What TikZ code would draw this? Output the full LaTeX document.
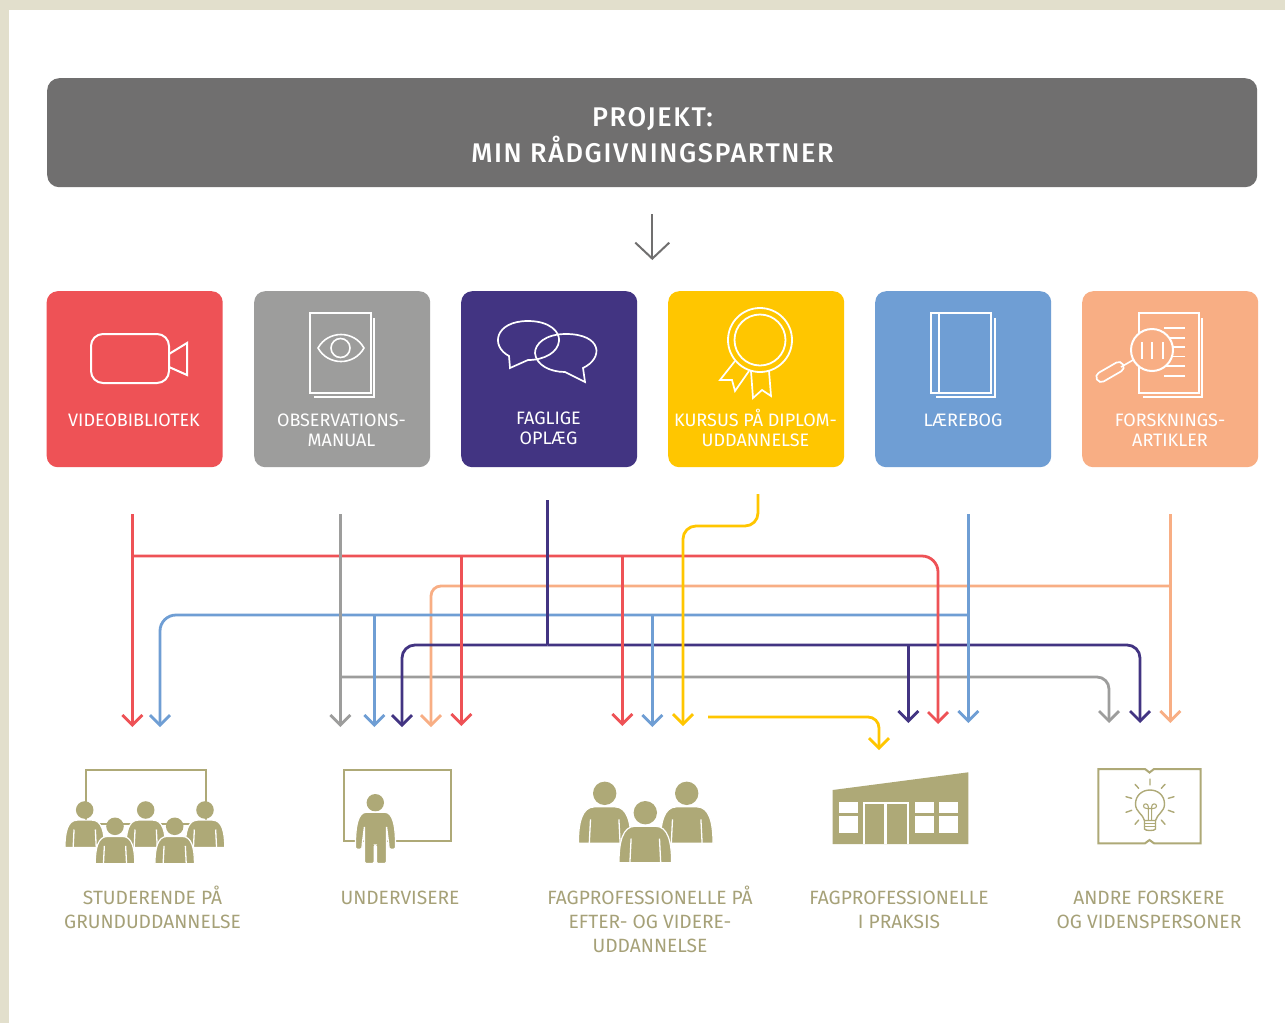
\documentclass[tikz,border=0pt]{standalone}
\usepackage{fontspec}
\setmainfont{Fira Sans}
\newfontfamily\headfont[LetterSpace=6]{Fira Sans Medium}
\usetikzlibrary{arrows.meta}
\definecolor{cred}{HTML}{EE5256}
\definecolor{cgray}{HTML}{9D9D9C}
\definecolor{cnavy}{HTML}{423482}
\definecolor{cyel}{HTML}{FFC600}
\definecolor{cblue}{HTML}{6F9ED4}
\definecolor{cpeach}{HTML}{F8AE84}
\definecolor{cdark}{HTML}{706F6F}
\definecolor{ctan}{HTML}{AEA977}
\definecolor{ctext}{HTML}{A6A178}
\definecolor{cborder}{HTML}{E2DFCC}
\newcommand{\tl}{\rule{0pt}{24pt}}
\newcommand{\gl}{\rule{0pt}{24pt}}
\tikzset{
  tile/.style={rounded corners=11pt,minimum width=176pt,minimum height=176pt,inner sep=0pt,anchor=north west},
  tilelabel/.style={text=white,align=center,inner sep=0pt,anchor=north,font=\fontsize{18}{20}\selectfont},
  grouplabel/.style={text=ctext,align=center,inner sep=0pt,anchor=north,font=\fontsize{19.2}{24.2}\selectfont},
  icon/.style={draw=white,line width=2pt,line join=miter},
  conn/.style={line width=2.8pt,-{Straight Barb[length=10pt,width=20pt]}},
  feed/.style={line width=2.8pt},
  tanline/.style={draw=ctan,line width=2pt},
  tanfine/.style={draw=ctan,line width=1.4pt,line cap=round}
}
\newcommand{\person}[3]{%
  \begin{scope}[shift={(#1,#2)},scale=#3]
    \fill[ctan] (0,0) circle (11.7);
    \draw[white,line width=1.2pt,fill=ctan]
      (-26.3,49.9) .. controls (-26.3,30) and (-23,13.5) .. (-10,13.5) -- (10,13.5)
      .. controls (23,13.5) and (26.3,30) .. (26.3,49.9) -- cycle;
    \draw[white,line width=1.3pt] (-15.4,50) -- (-14.2,26) (15.4,50) -- (14.2,26);
  \end{scope}}
\begin{document}
\begin{tikzpicture}[x=1pt,y=-1pt]
\useasboundingbox (0,0) rectangle (1285,1023);
\fill[white] (0,0) rectangle (1285,1023);
\fill[cborder] (0,0) rectangle (1285,10);
\fill[cborder] (0,0) rectangle (9,1023);

% header
\node[fill=cdark,rounded corners=12pt,minimum width=1210pt,minimum height=109pt,inner sep=0pt,anchor=north west] (head) at (47,78) {};
\node[text=white,inner sep=0pt,anchor=base] (headA) at (652.5,126) {\fontsize{27}{30}\selectfont\headfont PROJEKT:};
\node[text=white,inner sep=0pt,anchor=base] (headB) at (652.5,162) {\fontsize{27}{30}\selectfont\headfont MIN RÅDGIVNINGSPARTNER};
\coordinate (topS) at (652.3,214);
\coordinate (topE) at (652.3,260);
\draw[cdark,line width=2pt,-{Straight Barb[length=16pt,width=34pt]}] (topS) -- (topE);

% tiles
\node[tile,fill=cred] (t1) at (46.5,291) {};
\node[tile,fill=cgray] (t2) at (254,291) {};
\node[tile,fill=cnavy] (t3) at (461,291) {};
\node[tile,fill=cyel] (t4) at (668,291) {};
\node[tile,fill=cblue] (t5) at (875,291) {};
\node[tile,fill=cpeach] (t6) at (1082,291) {};
\node[tilelabel] (l1) at (134,402.7) {\tl VIDEOBIBLIOTEK};
\node[tilelabel] (l2) at (341.5,402.7) {\tl OBSERVATIONS-\\MANUAL};
\node[tilelabel] (l3) at (548.5,400.5) {\tl FAGLIGE\\OPLÆG};
\node[tilelabel] (l4) at (755.5,402.7) {\tl KURSUS PÅ DIPLOM-\\UDDANNELSE};
\node[tilelabel] (l5) at (963,402.7) {\tl LÆREBOG};
\node[tilelabel] (l6) at (1170,402.7) {\tl FORSKNINGS-\\ARTIKLER};

% tile icons
\draw[icon] (91,334) [rounded corners=12pt] rectangle (169,383);
\draw[icon] (169,354) -- (187,343) -- (187,375) -- (169,367);

\draw[icon] (310,313) rectangle (371,393);
\draw[icon] (374,318) -- (374,397) -- (314,397);
\draw[icon,line width=1.6pt] (318,348) .. controls (328,330) and (354,330) .. (364,348) .. controls (354,366) and (328,366) .. (318,348) -- cycle;
\draw[icon,line width=1.6pt] (340.5,348) circle (9.5);

\draw[icon,line width=1.7pt] (509,356) .. controls (490,346) and (495,321) .. (528,321) .. controls (550,321) and (560,332) .. (559,341) .. controls (558,352) and (545,360) .. (528,360) -- (510,368) -- cycle;
\draw[icon,line width=1.7pt] (583,368) .. controls (604,358) and (602,334) .. (566,334) .. controls (545,334) and (535,344) .. (535,353) .. controls (536,365) and (550,372) .. (565,372) -- (585,382) -- cycle;

\draw[icon,line width=1.8pt] (760,340) circle (32);
\draw[icon,line width=1.8pt] (760,340) circle (25.5);
\draw[icon,line width=1.7pt] (735,361) -- (720,380) -- (732,380) -- (735,391) -- (749,371);
\draw[icon,line width=1.7pt] (751,371) -- (753,398) -- (762,390) -- (771,396) -- (769,371);

\draw[icon] (931,313) rectangle (991,393);
\draw[icon] (939,313) -- (939,393);
\draw[icon] (995,318) -- (995,397) -- (935.5,397);

\draw[icon] (1139,313) rectangle (1199,393);
\draw[icon] (1202,318) -- (1202,397) -- (1142.5,397);
\foreach \yy in {327.7,337.7,347,356.3,365.7,375.7}{\draw[icon,line width=1.6pt] (1164,\yy) -- (1185,\yy);}
\draw[icon,fill=cpeach] (1152,350) circle (21);
\draw[icon,line width=1.6pt] (1142,342) -- (1142,359) (1152,342) -- (1152,359) (1163,342) -- (1163,359);
\draw[icon,line width=1.6pt] (1133,360) -- (1121,367);
\draw[icon,line width=1.7pt,rounded corners=4.8pt,rotate around={30:(1110,372)}] (1095,367) rectangle (1125,377);

% connectors: branch points are named
\coordinate (redS) at (132.3,514);   \coordinate (redJ) at (132.3,556);
\coordinate (redA) at (132.3,727);   \coordinate (redB1) at (461.3,556);
\coordinate (redB2) at (622.3,556);  \coordinate (redC1) at (461.3,726);
\coordinate (redC2) at (622.3,726);  \coordinate (redK) at (938,556);
\coordinate (redE) at (938,724);
\coordinate (grayS) at (340.3,514);  \coordinate (grayJ) at (340.3,677);
\coordinate (grayA) at (340.3,727);  \coordinate (grayK) at (1109,677);
\coordinate (grayE) at (1109,723);
\coordinate (navS) at (547.3,500);   \coordinate (navJ) at (547.3,645);
\coordinate (navK1) at (402,645);  \coordinate (navA) at (402,727);
\coordinate (navK2) at (1140,645); \coordinate (navE) at (1140,723);
\coordinate (navB) at (908.3,645);   \coordinate (navC) at (908.3,723);
\coordinate (yelS) at (758,494);   \coordinate (yelK1) at (758,526);
\coordinate (yelK2) at (683,526);  \coordinate (yelA) at (683,726);
\coordinate (yel2S) at (708,717);  \coordinate (yel2K) at (879,717);
\coordinate (yel2E) at (879,750);
\coordinate (bluS) at (968.3,514);   \coordinate (bluJ) at (968.3,615);
\coordinate (bluE) at (968.3,723);   \coordinate (bluK) at (160,615);
\coordinate (bluA) at (160,727);   \coordinate (bluB1) at (374.3,615);
\coordinate (bluC1) at (374.3,727);  \coordinate (bluB2) at (652.3,615);
\coordinate (bluC2) at (652.3,727);
\coordinate (peaS) at (1170.3,514);  \coordinate (peaJ) at (1170.3,586);
\coordinate (peaE) at (1170.3,723);  \coordinate (peaK) at (431,586);
\coordinate (peaA) at (431,727);

\draw[cgray,conn,rounded corners=12pt] (grayJ) -- (grayK) -- (grayE);
\draw[cpeach,conn] (peaS) -- (peaE);
\draw[cpeach,conn,rounded corners=10pt] (peaJ) -- (peaK) -- (peaA);
\draw[cnavy,conn,rounded corners=13pt] (navJ) -- (navK1) -- (navA);
\draw[cnavy,conn,rounded corners=13pt] (navJ) -- (navK2) -- (navE);
\draw[cnavy,conn] (navB) -- (navC);
\draw[cblue,conn,rounded corners=16pt] (bluJ) -- (bluK) -- (bluA);
\draw[cblue,conn] (bluB1) -- (bluC1);
\draw[cblue,conn] (bluB2) -- (bluC2);
\draw[cblue,conn] (bluS) -- (bluE);
\draw[cred,conn] (redS) -- (redA);
\draw[cred,conn,rounded corners=16pt] (redJ) -- (redK) -- (redE);
\draw[cred,conn] (redB1) -- (redC1);
\draw[cred,conn] (redB2) -- (redC2);
\draw[cnavy,feed] (navS) -- (navJ);
\draw[cgray,conn] (grayS) -- (grayA);
\draw[cyel,conn,rounded corners=13pt] (yelS) -- (yelK1) -- (yelK2) -- (yelA);
\draw[cyel,conn,rounded corners=11pt] (yel2S) -- (yel2K) -- (yel2E);

% group 1: class before a board
\draw[tanline] (86,770) rectangle (206,824);
\person{84.7}{810}{0.75}
\person{145.7}{810}{0.75}
\person{205}{810}{0.75}
\person{115}{826.3}{0.75}
\person{174.7}{826.3}{0.75}

% group 2: teacher
\draw[tanline] (343.5,770) rectangle (451,841);
\fill[ctan] (375.3,802.7) circle (8.7);
\draw[white,line width=1.2pt,fill=ctan,rounded corners=1.5pt]
  (355.5,846) .. controls (355.5,826) and (358,812.2) .. (368,812.2) -- (383,812.2)
  .. controls (393,812.2) and (395.5,826) .. (395.5,846)
  .. controls (395.5,850) and (389,850) .. (389,846)
  -- (386.5,826) -- (386.5,863.5) -- (376.4,863.5) -- (376.4,845) -- (374.2,845) -- (374.2,863.5) -- (364.5,863.5) -- (364.5,826)
  -- (362,846) .. controls (362,850) and (355.5,850) .. (355.5,846) -- cycle;

% group 3: three professionals
\person{604.7}{793.3}{1}
\person{686.7}{793.3}{1}
\person{645.3}{812.7}{1}

% group 4: building
\fill[ctan] (832.7,790) -- (968.3,772.3) -- (968.3,844) -- (832.7,844) -- cycle;
\fill[white] (863.3,801.7) rectangle (908.7,844);
\fill[ctan] (865.3,803.7) rectangle (884,844);
\fill[ctan] (886.7,803.7) rectangle (906.7,844);
\foreach \xx in {839,915,939}{
  \fill[white] (\xx,802) rectangle (\xx+19,832.7);
  \fill[ctan] (\xx,813.3) rectangle (\xx+19,815.7);
}

% group 5: open book with bulb
\draw[tanline] (1098.3,769) -- (1145,769) -- (1149.5,772.5) -- (1154,769) -- (1200.7,769) -- (1200.7,843.3) -- (1154,843.3) -- (1149.5,840) -- (1145,843.3) -- (1098.3,843.3) -- cycle;
\draw[tanfine] (1144.5,820.5) .. controls (1143,814) and (1135.5,812) .. (1135.5,804) .. controls (1135.5,795.5) and (1142,790) .. (1150,790) .. controls (1158,790) and (1164.5,795.5) .. (1164.5,804) .. controls (1164.5,812) and (1157,814) .. (1155.5,820.5) -- cycle;
\draw[tanfine] (1144.5,820.5) -- (1144.5,829) .. controls (1145,831) and (1155,831) .. (1155.5,829) -- (1155.5,820.5);
\draw[tanfine,line width=1.1pt] (1144.5,823.5) -- (1155.5,823.5) (1144.5,826.3) -- (1155.5,826.3);
\draw[tanfine,line width=1.1pt] (1148.4,820) -- (1148.4,807) .. controls (1148.4,803) and (1143.5,803) .. (1143.5,806) .. controls (1143.5,809) and (1148.4,808.5) .. (1150,808.5) .. controls (1151.6,808.5) and (1156.5,809) .. (1156.5,806) .. controls (1156.5,803) and (1151.6,803) .. (1151.6,807) -- (1151.6,820);
\draw[tanfine] (1150,779) -- (1150,785) (1135,784.3) -- (1138.7,788.3) (1165,784.3) -- (1161.3,788.3)
  (1126,796.7) -- (1131.7,798.3) (1174,796.7) -- (1168.3,798.3) (1126,812.3) -- (1131.7,810.3) (1174,812.3) -- (1168.3,810.3)
  (1135,824.3) -- (1138.7,820) (1165,824.3) -- (1161.3,820);

% group labels
\node[grouplabel] (g1) at (152.5,880) {\gl STUDERENDE PÅ\\GRUNDUDDANNELSE};
\node[grouplabel] (g2) at (400,880) {\gl UNDERVISERE};
\node[grouplabel] (g3) at (650,880) {\gl FAGPROFESSIONELLE PÅ\\EFTER- OG VIDERE-\\UDDANNELSE};
\node[grouplabel] (g4) at (899,880) {\gl FAGPROFESSIONELLE\\I PRAKSIS};
\node[grouplabel] (g5) at (1149,880) {\gl ANDRE FORSKERE\\OG VIDENSPERSONER};
\end{tikzpicture}
\end{document}
